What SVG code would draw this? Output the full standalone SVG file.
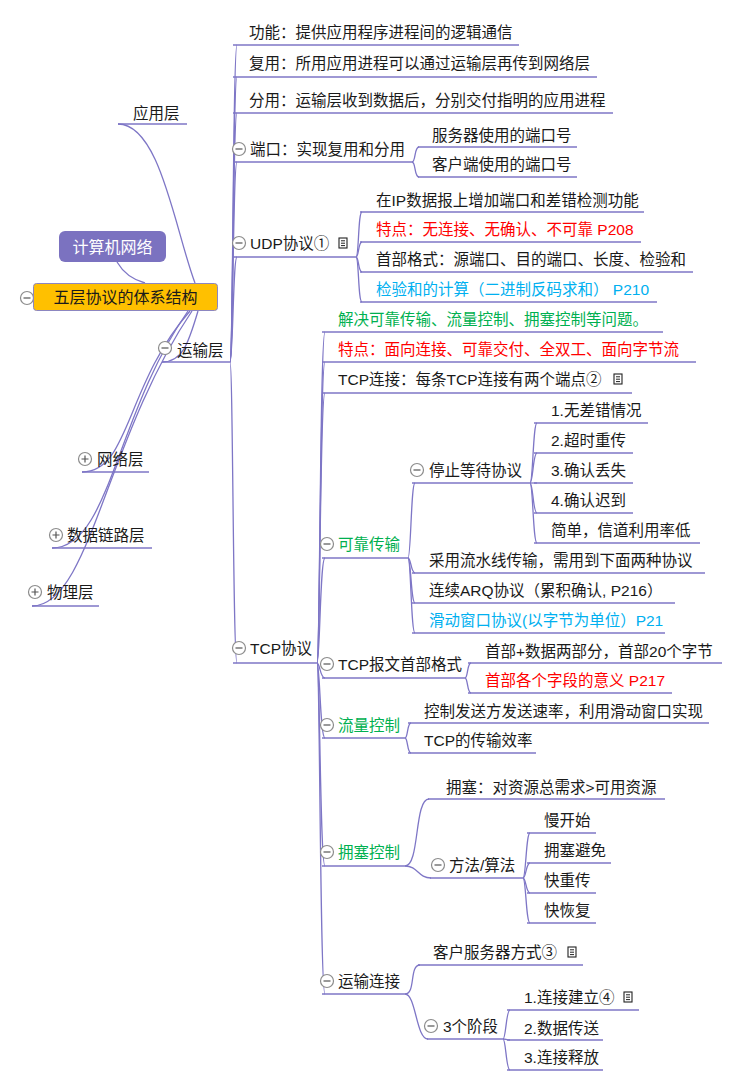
<svg xmlns="http://www.w3.org/2000/svg" width="755" height="1091" viewBox="0 0 755 1091">
<style>
.t{font-family:"Liberation Sans","Noto Sans CJK SC",sans-serif;font-size:15.5px;fill:#1a1a1a}
.g{fill:#00b050}.r{fill:#ff0000}.b{fill:#00b0f0}
.ul{stroke:#7e76c6;stroke-width:1.4;fill:none}
.cn{stroke:#7e76c6;stroke-width:1.3;fill:none}
.ci{fill:#fff;stroke:#8c8c8c;stroke-width:1.2}
.cl{stroke:#555;stroke-width:1.2;fill:none}
</style>
<defs>
<g id="minus"><circle class="ci" r="6.5"/><path class="cl" d="M-3.5 0H3.5"/></g>
<g id="plus"><circle class="ci" r="6.5"/><path class="cl" d="M-3.5 0H3.5M0 -3.5V3.5"/></g>
<g id="note"><rect x="-4" y="-5" width="8" height="10" fill="#fff" stroke="#222" stroke-width="1.1"/><path d="M-2 -2.2H2M-2 0.2H2M-2 2.6H2" stroke="#222" stroke-width="1"/></g>
</defs>
<rect width="755" height="1091" fill="#fff"/>

<g id="connectors">
<path class="cn" d="M117 262C124 274 134 280 145 283"/>
<path class="cn" d="M195 283C175 230 160 124 118 124"/>
<path class="cn" d="M198 311C188 345 182 362 162 362"/>
<path class="cn" d="M190 311C125 385 130 472 82 472"/>
<path class="cn" d="M188 311C115 415 110 548 52 548"/>
<path class="cn" d="M192 311C105 440 90 606 32 606"/>
<path class="cn" d="M230 362C233 362 233 45 237 45"/>
<path class="cn" d="M230 362C233 362 233 77 237 77"/>
<path class="cn" d="M230 362C233 362 233 113 237 113"/>
<path class="cn" d="M230 362C233 362 233 162 237 162"/>
<path class="cn" d="M230 362C233 362 233 257 237 257"/>
<path class="cn" d="M230 362C233 362 233 663 237 663"/>
<path class="cn" d="M412 162C416 162 414 147 419 147"/>
<path class="cn" d="M412 162C416 162 414 177 419 177"/>
<path class="cn" d="M356 257C359 257 358 212 362 212"/>
<path class="cn" d="M356 257C359 257 358 242 362 242"/>
<path class="cn" d="M356 257C359 257 358 272 362 272"/>
<path class="cn" d="M356 257C359 257 358 302 362 302"/>
<path class="cn" d="M317 663C320 663 320 332 325 332"/>
<path class="cn" d="M317 663C320 663 320 362 325 362"/>
<path class="cn" d="M317 663C320 663 320 393 325 393"/>
<path class="cn" d="M317 663C320 663 320 558 325 558"/>
<path class="cn" d="M317 663C320 663 320 678 325 678"/>
<path class="cn" d="M317 663C320 663 320 738 325 738"/>
<path class="cn" d="M317 663C320 663 320 866 325 866"/>
<path class="cn" d="M317 663C320 663 320 994 325 994"/>
<path class="cn" d="M408 558C411 558 411 483 415 483"/>
<path class="cn" d="M408 558C411 558 411 573 415 573"/>
<path class="cn" d="M408 558C411 558 411 603 415 603"/>
<path class="cn" d="M408 558C411 558 411 633 415 633"/>
<path class="cn" d="M530 483C533 483 533 423 537 423"/>
<path class="cn" d="M530 483C533 483 533 453 537 453"/>
<path class="cn" d="M530 483C533 483 533 483 537 483"/>
<path class="cn" d="M530 483C533 483 533 513 537 513"/>
<path class="cn" d="M530 483C533 483 533 543 537 543"/>
<path class="cn" d="M465 678C468 678 467 663 471 663"/>
<path class="cn" d="M465 678C468 678 467 693 471 693"/>
<path class="cn" d="M405 738C408 738 407 723 411 723"/>
<path class="cn" d="M405 738C408 738 407 753 411 753"/>
<path class="cn" d="M405 866C420 866 414 799 429 799"/>
<path class="cn" d="M405 866C418 866 418 878 431 878"/>
<path class="cn" d="M523 878C526 878 526 833 530 833"/>
<path class="cn" d="M523 878C526 878 526 863 530 863"/>
<path class="cn" d="M523 878C526 878 526 893 530 893"/>
<path class="cn" d="M523 878C526 878 526 923 530 923"/>
<path class="cn" d="M405 994C416 994 409 965 420 965"/>
<path class="cn" d="M405 994C416 994 416 1039 428 1039"/>
<path class="cn" d="M503 1039C506 1039 506 1010 510 1010"/>
<path class="cn" d="M503 1039C506 1039 506 1040 510 1040"/>
<path class="cn" d="M503 1039C506 1039 506 1070 510 1070"/>
</g>

<g id="root"><rect x="59" y="231" width="107" height="31" rx="6" fill="#7b72c0"/><text x="112.5" y="253" text-anchor="middle" class="t" style="fill:#fff;font-size:16px">计算机网络</text></g>
<g id="wuceng"><use href="#minus" x="27" y="298"/><rect x="33.5" y="283.5" width="184" height="27" rx="3" fill="#ffc000" stroke="#8c86c0"/><text x="125.5" y="303" text-anchor="middle" class="t" style="font-size:16px">五层协议的体系结构</text></g>

<g id="yingyong"><text x="133" y="119" class="t">应用层</text><path class="ul" d="M118 124H187"/></g>
<g id="yunshu"><use href="#minus" x="165" y="348"/><text x="177" y="356" class="t">运输层</text><path class="ul" d="M162 362H230"/></g>
<g id="wangluo"><use href="#plus" x="85" y="459"/><text x="97" y="465" class="t">网络层</text><path class="ul" d="M82 472H149"/></g>
<g id="shujulianlu"><use href="#plus" x="56" y="535"/><text x="67" y="541" class="t">数据链路层</text><path class="ul" d="M52 548H152"/></g>
<g id="wuli"><use href="#plus" x="35" y="592"/><text x="47" y="598" class="t">物理层</text><path class="ul" d="M32 606H99"/></g>

<g id="gongneng"><text x="249" y="38" class="t">功能：提供应用程序进程间的逻辑通信</text><path class="ul" d="M233 45H519"/></g>
<g id="fuyong"><text x="249" y="69" class="t">复用：所用应用进程可以通过运输层再传到网络层</text><path class="ul" d="M233 77H597"/></g>
<g id="fenyong"><text x="249" y="106" class="t">分用：运输层收到数据后，分别交付指明的应用进程</text><path class="ul" d="M233 113H613"/></g>
<g id="duankou"><use href="#minus" x="239" y="149"/><text x="250" y="155" class="t">端口：实现复用和分用</text><path class="ul" d="M233 162H412"/></g>
<g id="fuwuqi"><text x="432" y="141" class="t">服务器使用的端口号</text><path class="ul" d="M418 147H577"/></g>
<g id="kehuduan"><text x="432" y="170" class="t">客户端使用的端口号</text><path class="ul" d="M418 177H577"/></g>
<g id="udp"><use href="#minus" x="239" y="243"/><text x="250" y="249" class="t">UDP协议①</text><use href="#note" x="343" y="243"/><path class="ul" d="M233 257H356"/></g>
<g id="udp1"><text x="376" y="206" class="t">在IP数据报上增加端口和差错检测功能</text><path class="ul" d="M360 212H644"/></g>
<g id="udp2"><text x="376" y="235" class="t r">特点：无连接、无确认、不可靠 P208</text><path class="ul" d="M360 242H641"/></g>
<g id="udp3"><text x="376" y="265" class="t">首部格式：源端口、目的端口、长度、检验和</text><path class="ul" d="M360 272H693"/></g>
<g id="udp4"><text x="376" y="295" class="t b">检验和的计算（二进制反码求和） P210</text><path class="ul" d="M360 302H657"/></g>

<g id="tcp"><use href="#minus" x="239" y="648"/><text x="250" y="654" class="t">TCP协议</text><path class="ul" d="M233 663H317"/></g>
<g id="tcp1"><text x="338" y="325" class="t g">解决可靠传输、流量控制、拥塞控制等问题。</text><path class="ul" d="M322 332H663"/></g>
<g id="tcp2"><text x="338" y="355" class="t r">特点：面向连接、可靠交付、全双工、面向字节流</text><path class="ul" d="M322 362H696"/></g>
<g id="tcp3"><text x="338" y="385" class="t">TCP连接：每条TCP连接有两个端点②</text><use href="#note" x="618" y="379"/><path class="ul" d="M322 393H632"/></g>
<g id="kekao"><use href="#minus" x="327" y="544"/><text x="338" y="550" class="t g">可靠传输</text><path class="ul" d="M322 558H408"/></g>
<g id="tingzhi"><use href="#minus" x="417" y="470"/><text x="429" y="476" class="t">停止等待协议</text><path class="ul" d="M412 483H530"/></g>
<g id="tz1"><text x="551" y="416" class="t">1.无差错情况</text><path class="ul" d="M534 423H648"/></g>
<g id="tz2"><text x="551" y="446" class="t">2.超时重传</text><path class="ul" d="M534 453H633"/></g>
<g id="tz3"><text x="551" y="476" class="t">3.确认丢失</text><path class="ul" d="M534 483H633"/></g>
<g id="tz4"><text x="551" y="506" class="t">4.确认迟到</text><path class="ul" d="M534 513H633"/></g>
<g id="tz5"><text x="551" y="536" class="t">简单，信道利用率低</text><path class="ul" d="M534 543H700"/></g>
<g id="liushui"><text x="429" y="566" class="t">采用流水线传输，需用到下面两种协议</text><path class="ul" d="M412 573H705"/></g>
<g id="arq"><text x="429" y="596" class="t">连续ARQ协议（累积确认, P216）</text><path class="ul" d="M412 603H675"/></g>
<g id="huadong"><text x="429" y="626" class="t b">滑动窗口协议(以字节为单位）P21</text><path class="ul" d="M412 633H665"/></g>

<g id="baowen"><use href="#minus" x="327" y="664"/><text x="338" y="670" class="t">TCP报文首部格式</text><path class="ul" d="M322 678H465"/></g>
<g id="bw1"><text x="485" y="657" class="t">首部+数据两部分，首部20个字节</text><path class="ul" d="M468 663H722"/></g>
<g id="bw2"><text x="485" y="686" class="t r">首部各个字段的意义 P217</text><path class="ul" d="M468 693H672"/></g>

<g id="liuliang"><use href="#minus" x="327" y="725"/><text x="338" y="731" class="t g">流量控制</text><path class="ul" d="M322 738H405"/></g>
<g id="ll1"><text x="424" y="717" class="t">控制发送方发送速率，利用滑动窗口实现</text><path class="ul" d="M408 723H709"/></g>
<g id="ll2"><text x="424" y="746" class="t">TCP的传输效率</text><path class="ul" d="M408 753H536"/></g>

<g id="yongsai"><use href="#minus" x="327" y="852"/><text x="338" y="858" class="t g">拥塞控制</text><path class="ul" d="M322 866H405"/></g>
<g id="ys1"><text x="446" y="793" class="t">拥塞：对资源总需求&gt;可用资源</text><path class="ul" d="M428 799H665"/></g>
<g id="fangfa"><use href="#minus" x="438" y="865"/><text x="449" y="871" class="t">方法/算法</text><path class="ul" d="M430 878H523"/></g>
<g id="ff1"><text x="544" y="826" class="t">慢开始</text><path class="ul" d="M527 833H596"/></g>
<g id="ff2"><text x="544" y="856" class="t">拥塞避免</text><path class="ul" d="M527 863H611"/></g>
<g id="ff3"><text x="544" y="886" class="t">快重传</text><path class="ul" d="M527 893H596"/></g>
<g id="ff4"><text x="544" y="916" class="t">快恢复</text><path class="ul" d="M527 923H596"/></g>

<g id="lianjie"><use href="#minus" x="327" y="981"/><text x="338" y="987" class="t">运输连接</text><path class="ul" d="M322 994H405"/></g>
<g id="kehu"><text x="433" y="958" class="t">客户服务器方式③</text><use href="#note" x="572" y="952"/><path class="ul" d="M418 965H583"/></g>
<g id="jieduan"><use href="#minus" x="431" y="1026"/><text x="443" y="1032" class="t">3个阶段</text><path class="ul" d="M427 1039H503"/></g>
<g id="jd1"><text x="524" y="1003" class="t">1.连接建立④</text><use href="#note" x="628" y="997"/><path class="ul" d="M507 1010H639"/></g>
<g id="jd2"><text x="524" y="1034" class="t">2.数据传送</text><path class="ul" d="M507 1040H603"/></g>
<g id="jd3"><text x="524" y="1063" class="t">3.连接释放</text><path class="ul" d="M507 1070H603"/></g>
</svg>
